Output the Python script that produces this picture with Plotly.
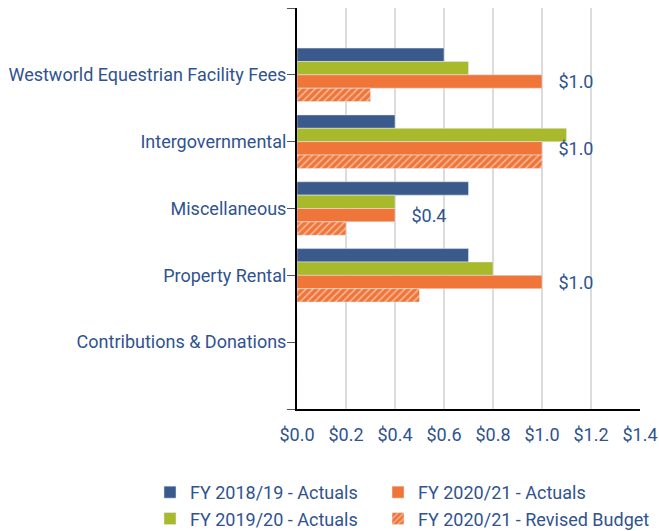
import plotly.graph_objects as go

categories = ["Westworld Equestrian Facility Fees", "Intergovernmental", "Miscellaneous",
              "Property Rental", "Contributions & Donations"]
fy1819 = [0.6, 0.4, 0.7, 0.7, 0.0]
fy1920 = [0.7, 1.1, 0.4, 0.8, 0.0]
fy2021 = [1.0, 1.0, 0.4, 1.0, 0.0]
fy2021_budget = [0.3, 1.0, 0.2, 0.5, 0.0]
x_ticks = [0.0, 0.2, 0.4, 0.6, 0.8, 1.0, 1.2, 1.4]

pos = list(range(len(categories)))
TXT = "#30538f"
FONT = "Roboto"
FS = 18

fig = go.Figure()
fig.add_bar(y=pos, x=fy1819, orientation="h", name="FY 2018/19 - Actuals",
            marker=dict(color="#3a5a8c"), legend="legend")
fig.add_bar(y=pos, x=fy1920, orientation="h", name="FY 2019/20 - Actuals",
            marker=dict(color="#a8ba2c"), legend="legend")
fig.add_bar(y=pos, x=fy2021, orientation="h", name="FY 2020/21 - Actuals",
            marker=dict(color="#ef7538"), legend="legend2",
            text=[("\u00a0\u00a0\u00a0$%.1f" % v) if v else "" for v in fy2021],
            textposition="outside", constraintext="none", cliponaxis=False,
            textfont=dict(color=TXT, size=FS, family=FONT))
fig.add_bar(y=pos, x=fy2021_budget, orientation="h", name="FY 2020/21 - Revised Budget",
            marker=dict(color="#ef7538",
                        pattern=dict(shape="/", fgcolor="white", size=5, solidity=0.3)),
            legend="legend2")

legend_common = dict(orientation="v", xanchor="left", y=-0.162, yanchor="top",
                     traceorder="normal", bgcolor="rgba(0,0,0,0)",
                     font=dict(size=FS, color=TXT, family=FONT))

fig.update_layout(
    width=659, height=531,
    barmode="group", bargap=0.2, bargroupgap=0,
    plot_bgcolor="white", paper_bgcolor="white",
    margin=dict(l=297, r=19, t=8, b=122, autoexpand=False),
    font=dict(family=FONT, size=FS, color=TXT),
    showlegend=True,
    legend=dict(x=-0.4286, **legend_common),
    legend2=dict(x=0.2362, **legend_common),
)
fig.update_xaxes(range=[0, 1.4], tickvals=x_ticks,
                 ticktext=["$%.1f" % v for v in x_ticks],
                 showgrid=True, gridcolor="#dcdcdc", gridwidth=2,
                 showline=True, linecolor="black", linewidth=2, zeroline=False,
                 ticks="", ticklabelstandoff=8, automargin=False,
                 tickfont=dict(size=FS, color=TXT))
fig.update_yaxes(range=[len(categories), -1],
                 tickvals=[-1] + pos + [len(categories)],
                 ticktext=[""] + categories + [""],
                 showgrid=False, zeroline=False, automargin=False,
                 showline=True, linecolor="black", linewidth=2,
                 ticks="outside", ticklen=8, tickcolor="#555", tickwidth=1,
                 ticklabelstandoff=-3,
                 tickfont=dict(size=FS, color=TXT))

fig.write_html("out.html", config={"displayModeBar": False},
               post_script="document.body.style.margin='0';")
